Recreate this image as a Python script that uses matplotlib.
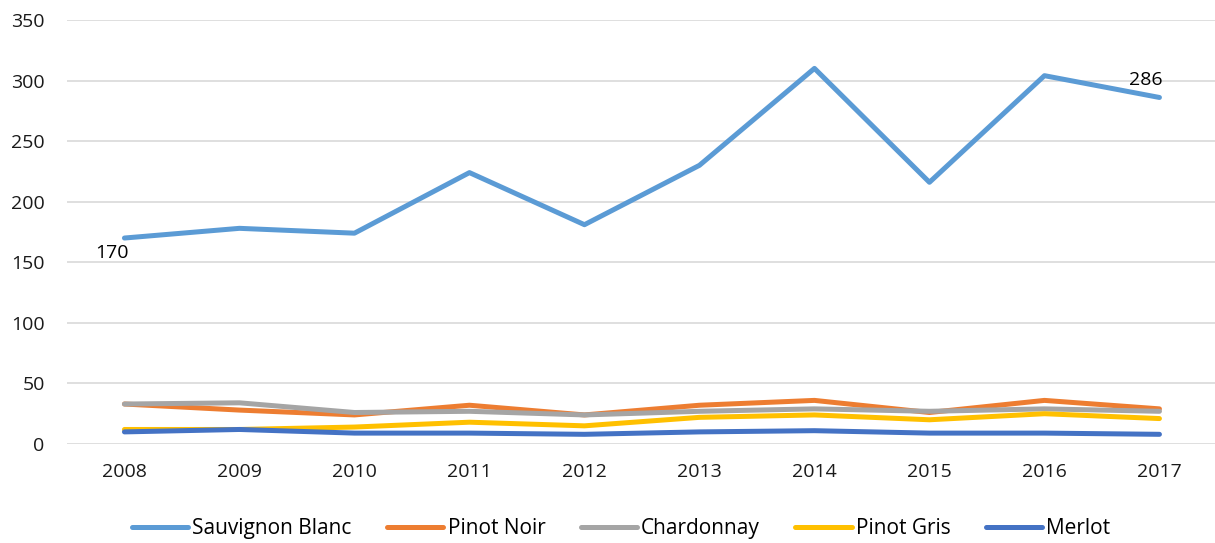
import matplotlib
matplotlib.use('Agg')
import matplotlib.pyplot as plt

# values
years = ['2008', '2009', '2010', '2011', '2012', '2013', '2014', '2015', '2016', '2017']
sauvignon_blanc = [170, 178, 174, 224, 181, 230, 310, 216, 304, 286]
pinot_noir = [33, 28, 24, 32, 24, 32, 36, 26, 36, 29]
chardonnay = [33, 34, 26, 27, 24, 27, 29, 27, 29, 27]
pinot_gris = [12, 12, 14, 18, 15, 22, 24, 20, 25, 21]
merlot = [10, 12, 9, 9, 8, 10, 11, 9, 9, 8]

series = [
    ('Sauvignon Blanc', sauvignon_blanc, '#5B9BD5'),
    ('Pinot Noir', pinot_noir, '#ED7D31'),
    ('Chardonnay', chardonnay, '#A5A5A5'),
    ('Pinot Gris', pinot_gris, '#FFC000'),
    ('Merlot', merlot, '#4472C4'),
]

plt.rcParams['font.family'] = ['Open Sans', 'DejaVu Sans']

fig = plt.figure(figsize=(12.15, 5.43), dpi=100)
ax = fig.add_axes([0.0551, 0.1823, 0.9465, 0.781])

x = range(len(years))
for name, vals, col in series:
    ax.plot(x, vals, color=col, lw=3.6, solid_capstyle='round',
            solid_joinstyle='round', label=name)

# data labels on first and last point of Sauvignon Blanc
ax.annotate(str(sauvignon_blanc[0]), (0, sauvignon_blanc[0]), xytext=(-9, -11),
            textcoords='offset points', ha='center', va='center', fontsize=14)
ax.annotate(str(sauvignon_blanc[-1]), (9, sauvignon_blanc[-1]), xytext=(-10, 12.5),
            textcoords='offset points', ha='center', va='center', fontsize=14)

ax.set_xlim(-0.5, 9.5)
ax.set_ylim(0, 350)
ax.set_yticks(range(0, 351, 50))
ax.set_xticks(list(x))
ax.set_xticklabels(years)
ax.grid(axis='y', color='#D9D9D9', lw=1.2)
ax.set_axisbelow(True)
for s in ax.spines.values():
    s.set_visible(False)
ax.tick_params(length=0, labelsize=14, colors='#1a1a1a')
ax.tick_params(axis='x', pad=14)
ax.tick_params(axis='y', pad=16)

ax.legend(loc='center', bbox_to_anchor=(0.482, -0.2004), ncol=5, frameon=False,
          fontsize=15, handlelength=2.7, handletextpad=0.2, columnspacing=1.7)

fig.savefig('out.png')
